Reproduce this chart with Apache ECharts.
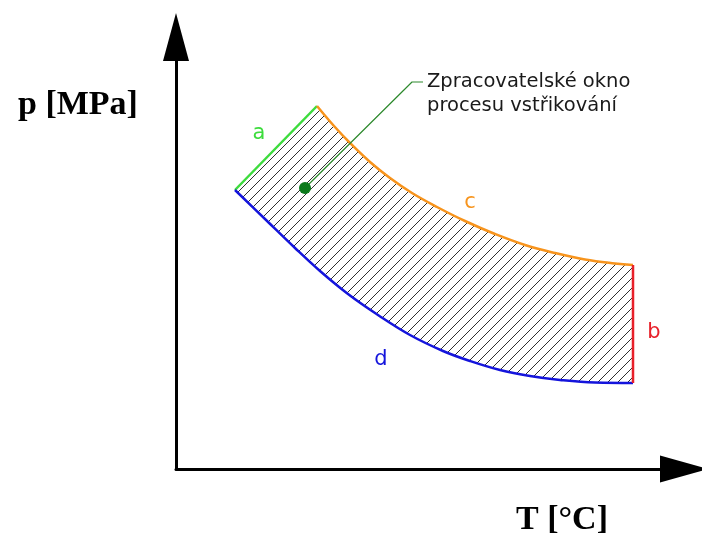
<!DOCTYPE html>
<html><head><meta charset="utf-8">
<script src="https://cdn.jsdelivr.net/npm/echarts@6/dist/echarts.min.js"></script>
<style>html,body{margin:0;padding:0;background:#fff}#c{width:702px;height:534px}</style>
</head><body><div id="c"></div>
<script>
// boundary a (green)
const lineA_T = [11.8, 28.2];
const lineA_p = [69.75, 90.75];
// boundary c (orange): upper curve
const curveC_T = [28.2, 31.6, 35.0, 38.8, 42.8, 47.2, 52.2, 57.8, 63.8, 69.8, 75.8, 81.8, 87.8, 91.4];
const curveC_p = [90.75, 85.75, 81.25, 76.75, 72.75, 69.0, 65.5, 62.0, 58.75, 56.0, 54.0, 52.4, 51.4, 51.0];
// boundary d (blue): lower curve
const curveD_T = [11.8, 17.8, 23.8, 28.8, 34.4, 40.4, 46.8, 53.4, 58.8, 64.8, 70.8, 76.8, 83.8, 91.4];
const curveD_p = [69.75, 62.5, 55.25, 49.5, 43.75, 38.5, 33.5, 29.5, 27.0, 24.75, 23.25, 22.25, 21.6, 21.5];
// boundary b (red)
const lineB_T = [91.4, 91.4];
const lineB_p = [51.0, 21.5];
// annotation point and leader line
const windowPoint_T = [25.8];
const windowPoint_p = [70.25];
const leader_T = [25.8, 47.2, 49.4];
const leader_p = [70.25, 96.75, 96.75];
// texts
const axisTitleY = 'p [MPa]';
const axisTitleX = 'T [°C]';
const annotationLines = ['Zpracovatelské okno', 'procesu vstřikování'];
const boundaryNames = ['a', 'b', 'c', 'd'];

function zip(xs, ys) { return xs.map((x, i) => [x, ys[i]]); }

function hatchCanvas() {
  const s = 10;
  const cv = document.createElement('canvas');
  cv.width = s; cv.height = s;
  const g = cv.getContext('2d');
  g.fillStyle = '#2e2e2e';
  for (let i = 0; i < s; i++) g.fillRect(i, s - 1 - i, 1, 1);
  return cv;
}
const hatch = { image: hatchCanvas(), repeat: 'repeat' };

const chart = echarts.init(document.getElementById('c'), null, { renderer: 'canvas' });
const xAxisOpt = {
  type: 'value', min: 0, max: 101.6, z: 10,
  axisLine: { show: true, lineStyle: { color: '#000', width: 3 }, symbol: ['none', 'triangle'], symbolSize: [27, 48] },
  axisTick: { show: false }, axisLabel: { show: false }, splitLine: { show: false }
};
const yAxisOpt = Object.assign({}, xAxisOpt, { max: 108, axisLine: { show: true, lineStyle: { color: '#000', width: 3 }, symbol: ['none', 'triangle'], symbolSize: [26, 48] } });
const SM = 0.4;
const txtFont = '19.5px "DejaVu Sans"';
const lblFont = '21px "DejaVu Sans"';
chart.setOption({
  animation: false,
  backgroundColor: '#fff',
  grid: { left: 176, right: 18, top: 37, bottom: 65 },
  xAxis: xAxisOpt,
  yAxis: yAxisOpt,
  series: [
    { type: 'line', data: zip(lineA_T, lineA_p), symbol: 'none', silent: true, z: 2,
      lineStyle: { width: 0 }, areaStyle: { color: hatch, opacity: 1 } },
    { type: 'line', data: zip(curveC_T, curveC_p), symbol: 'none', smooth: SM, silent: true, z: 2,
      lineStyle: { width: 0 }, areaStyle: { color: hatch, opacity: 1 } },
    { type: 'line', data: zip(curveD_T, curveD_p), symbol: 'none', smooth: SM, silent: true, z: 3,
      lineStyle: { width: 0 }, areaStyle: { color: '#fff', opacity: 1 } },
    { type: 'line', data: zip(lineA_T, lineA_p), symbol: 'none', z: 4, lineStyle: { color: '#3ddc3d', width: 2.5 } },
    { type: 'line', data: zip(curveC_T, curveC_p), symbol: 'none', smooth: SM, z: 4, lineStyle: { color: '#f7941d', width: 2.5 } },
    { type: 'line', data: zip(curveD_T, curveD_p), symbol: 'none', smooth: SM, z: 4, lineStyle: { color: '#1414dc', width: 2.5 } },
    { type: 'line', data: zip(lineB_T, lineB_p), symbol: 'none', z: 4, lineStyle: { color: '#e8202a', width: 2.5 } },
    { type: 'line', data: zip(leader_T, leader_p), symbol: 'none', z: 5, lineStyle: { color: '#2e8a2e', width: 1.2 } },
    { type: 'scatter', data: zip(windowPoint_T, windowPoint_p), symbolSize: 12, z: 6, itemStyle: { color: '#0c7a1c', opacity: 1 } }
  ],
  graphic: [
    { type: 'text', x: 18, y: 105, z: 20, style: { text: axisTitleY, font: 'bold 34px "Liberation Serif"', fill: '#000', verticalAlign: 'middle' } },
    { type: 'text', x: 516, y: 520, z: 20, style: { text: axisTitleX, font: 'bold 34px "Liberation Serif"', fill: '#000', verticalAlign: 'middle' } },
    { type: 'text', x: 427, y: 82, z: 20, style: { text: annotationLines[0], font: txtFont, fill: '#1a1a1a', verticalAlign: 'middle' } },
    { type: 'text', x: 427, y: 106, z: 20, style: { text: annotationLines[1], font: txtFont, fill: '#1a1a1a', verticalAlign: 'middle' } },
    { type: 'text', x: 259, y: 134, z: 20, style: { text: boundaryNames[0], font: lblFont, fill: '#3ddc3d', align: 'center', verticalAlign: 'middle' } },
    { type: 'text', x: 654, y: 333, z: 20, style: { text: boundaryNames[1], font: lblFont, fill: '#e8202a', align: 'center', verticalAlign: 'middle' } },
    { type: 'text', x: 470, y: 203, z: 20, style: { text: boundaryNames[2], font: lblFont, fill: '#f7941d', align: 'center', verticalAlign: 'middle' } },
    { type: 'text', x: 381, y: 360, z: 20, style: { text: boundaryNames[3], font: lblFont, fill: '#1414dc', align: 'center', verticalAlign: 'middle' } }
  ]
});
</script>
</body></html>
